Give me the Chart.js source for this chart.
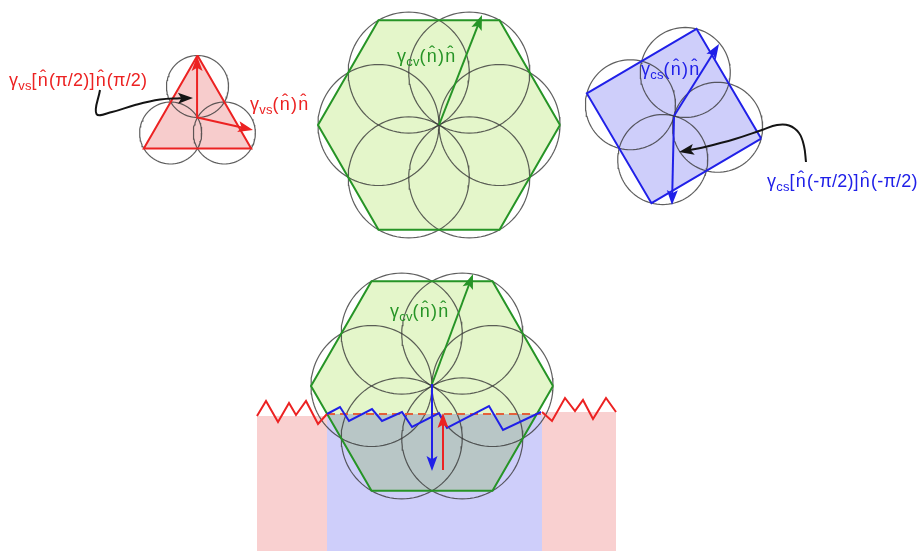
<!DOCTYPE html>
<html>
<head>
<meta charset="utf-8">
<script src="https://cdn.jsdelivr.net/npm/chart.js@4.4.1/dist/chart.umd.min.js"></script>
<style>
  html, body { margin: 0; padding: 0; background: #ffffff; overflow: hidden; }
  canvas { display: block; }
</style>
</head>
<body>
<canvas id="wulff" width="920" height="551"></canvas>
<script>
// ---- Figures: regular polygons with their circle constructions ----
// centre (x, y), circumradius, angle of first vertex (deg), number of sides
const figureCentres = [[197.5, 117.5], [439, 125], [674, 116], [432, 386]];
const figureRadii   = [62, 121, 90, 121];
const figureAngles  = [-90, 0, 14.5, 0];
const figureSides   = [3, 6, 4, 6];

// ---- Straight vectors (start -> tip) ----
const arrowStarts = [[197.5, 117.5], [197.5, 117.5], [439, 125], [674, 116], [674, 117], [432, 384], [432, 384], [443, 470]];
const arrowTips   = [[197, 56], [253, 130], [482, 15], [719, 44], [672, 205], [473, 274], [432, 471], [443, 413]];

// ---- Curved pointer arrows (waypoints, last one is the tip) ----
const pointerLeft  = [[100, 90], [96.5, 114], [112, 112], [135, 105], [160, 99.5], [180, 98.2], [193, 98]];
const pointerRight = [[806, 162], [804, 146], [799, 133], [789, 125.5], [777, 125], [762, 130], [735, 139], [705, 147], [690, 150], [679, 152]];

// ---- Interface profile ----
const redZigLeft  = [[257, 416], [266, 401], [278, 422], [289, 403], [296, 415], [306, 401], [318, 424], [327, 414]];
const redZigRight = [[542, 412], [552, 421], [565, 398], [575, 411], [583, 400], [593, 419], [606, 398], [616, 412]];
const blueZig     = [[327, 414], [340, 407], [349, 421], [372, 409], [382, 421], [402, 412], [412, 427], [439, 413], [447, 428], [489, 406], [503, 430], [541, 412]];
const dashedLevel = [[327, 414], [541, 414]];
// phase blocks: x0, x1, top y, bottom y
const pinkBlocks  = [[257, 327, 416, 551], [542, 616, 412, 551]];
const blueBlock   = [327, 542, 414, 551];

// ---- Labels ----
const labelGreek = ['γ', 'γ', 'γ', 'γ', 'γ', 'γ'];
const labelSubs  = ['vs', 'vs', 'cv', 'cs', 'cs', 'cv'];
const labelMains = ['[n\u0302(π/2)]n\u0302(π/2)', '(n\u0302)n\u0302', '(n\u0302)n\u0302', '(n\u0302)n\u0302', '[n\u0302(-π/2)]n\u0302(-π/2)', '(n\u0302)n\u0302'];

// ---- styling ----
const RED = 'rgb(236,34,34)', GREEN = 'rgb(38,148,38)', BLUE = 'rgb(32,32,232)', BLACK = 'rgb(20,20,20)';
const PINK = 'rgb(249,208,208)', LIGHTGREEN = 'rgb(228,246,202)', LAVENDER = 'rgb(206,206,250)', TRI_FILL = 'rgb(247,204,204)';
const CIRCLE = 'rgba(55,55,55,0.8)';
const figureEdge = [RED, GREEN, BLUE, GREEN];
const figureFill = [TRI_FILL, LIGHTGREEN, LAVENDER, LIGHTGREEN];
const arrowColors = [RED, RED, GREEN, BLUE, BLUE, GREEN, BLUE, RED];
const labelColors = [RED, RED, GREEN, BLUE, BLUE, GREEN];
const labelAnchors = [[9, 86], [250, 110], [397, 62], [641, 75], [767, 187], [390, 317]];

const pts = a => a.map(p => ({ x: p[0], y: p[1] }));
const rad = d => d * Math.PI / 180;

function polygonVerts(i) {
  const [cx, cy] = figureCentres[i], R = figureRadii[i], n = figureSides[i];
  const v = [];
  for (let k = 0; k <= n; k++) {
    const a = rad(figureAngles[i] + 360 * k / n);
    v.push([cx + R * Math.cos(a), cy + R * Math.sin(a)]);
  }
  return v;
}
function circleVerts(cx, cy, r) {
  const v = [];
  for (let k = 0; k <= 96; k++) {
    const a = 2 * Math.PI * k / 96;
    v.push([cx + r * Math.cos(a), cy + r * Math.sin(a)]);
  }
  return v;
}
function figureCircles(i) {
  const [cx, cy] = figureCentres[i], r = figureRadii[i] / 2, n = figureSides[i];
  const out = [];
  for (let k = 0; k < n; k++) {
    const a = rad(figureAngles[i] + 360 * k / n);
    out.push(circleVerts(cx + r * Math.cos(a), cy + r * Math.sin(a), r));
  }
  return out;
}
function rectVerts(x0, x1, y0, y1) { return [[x0, y0], [x1, y0], [x1, y1], [x0, y1], [x0, y0]]; }
// arrowhead with a slight notch at the back
function headVerts(from, tip, len, wid) {
  const dx = tip[0] - from[0], dy = tip[1] - from[1], L = Math.hypot(dx, dy);
  const ux = dx / L, uy = dy / L, nx = -uy, ny = ux;
  const bx = tip[0] - ux * len, by = tip[1] - uy * len;
  return [tip, [bx + nx * wid / 2, by + ny * wid / 2], [tip[0] - ux * len * 0.78, tip[1] - uy * len * 0.78],
          [bx - nx * wid / 2, by - ny * wid / 2], tip];
}
function pullBack(from, tip, d) {
  const L = Math.hypot(tip[0] - from[0], tip[1] - from[1]);
  return [tip[0] - (tip[0] - from[0]) / L * d, tip[1] - (tip[1] - from[1]) / L * d];
}

const datasets = [];
function fillShape(v, color, blend) {
  datasets.push({ data: pts(v), backgroundColor: color, borderColor: 'rgba(0,0,0,0)', borderWidth: 0, fill: 'shape', blend: !!blend });
}
function stroke(v, color, width, extra) {
  datasets.push(Object.assign({ data: pts(v), borderColor: color, borderWidth: width, fill: false }, extra || {}));
}

// phase blocks
pinkBlocks.forEach(b => fillShape(rectVerts(b[0], b[1], b[2], b[3]), PINK));
fillShape(rectVerts(blueBlock[0], blueBlock[1], blueBlock[2], blueBlock[3]), LAVENDER);
// polygon interiors (multiplied so overlaps darken)
for (let i = 0; i < figureCentres.length; i++) fillShape(polygonVerts(i), figureFill[i], true);
// circle constructions
for (let i = 0; i < figureCentres.length; i++) figureCircles(i).forEach(c => stroke(c, CIRCLE, 1.2));
// polygon edges
for (let i = 0; i < figureCentres.length; i++) stroke(polygonVerts(i), figureEdge[i], 2);
// interface lines
stroke(redZigLeft, RED, 2);
stroke(redZigRight, RED, 2);
stroke(dashedLevel, 'rgb(228,96,58)', 2, { borderDash: [8, 5] });
stroke(blueZig, BLUE, 2);
// straight vectors
for (let i = 0; i < arrowStarts.length; i++) {
  const s = arrowStarts[i], t = arrowTips[i];
  stroke([s, pullBack(s, t, 8)], arrowColors[i], 2);
  fillShape(headVerts(s, t, 15, 11), arrowColors[i]);
}
// curved pointers
[pointerLeft, pointerRight].forEach(p => {
  const n = p.length, tip = p[n - 1], prev = p[n - 2];
  const body = p.slice(0, n - 1).concat([pullBack(prev, tip, 8)]);
  stroke(body, BLACK, 2, { tension: 0.4 });
  fillShape(headVerts(prev, tip, 15, 11), BLACK);
});

// draw in array order
datasets.forEach((d, i) => { d.order = -i; d.pointRadius = 0; d.clip = false; d.spanGaps = true; if (d.tension === undefined) d.tension = 0; });

function setBlend(chart, i) {
  const d = chart.data.datasets[i];
  chart.ctx.globalCompositeOperation = d && d.blend ? 'multiply' : 'source-over';
}
const blendPlugin = {
  id: 'blendFills',
  beforeDatasetsDraw(chart) { setBlend(chart, 0); },
  afterDatasetDraw(chart, args) { setBlend(chart, args.index + 1); },
  afterDatasetsDraw(chart) { chart.ctx.globalCompositeOperation = 'source-over'; }
};

const FONT = '"Liberation Sans", Arial, Helvetica, sans-serif';
const labelPlugin = {
  id: 'mathLabels',
  afterDraw(chart) {
    const ctx = chart.ctx;
    ctx.save();
    ctx.textBaseline = 'alphabetic';
    ctx.textAlign = 'left';
    if ('letterSpacing' in ctx) ctx.letterSpacing = '0.2px';
    for (let i = 0; i < labelMains.length; i++) {
      let [x, y] = labelAnchors[i];
      ctx.fillStyle = labelColors[i];
      ctx.font = '18px ' + FONT;
      ctx.fillText(labelGreek[i], x, y);
      x += ctx.measureText(labelGreek[i]).width;
      ctx.font = '13px ' + FONT;
      ctx.fillText(labelSubs[i], x, y + 4);
      x += ctx.measureText(labelSubs[i]).width;
      ctx.font = '18px ' + FONT;
      labelMains[i].split(/(n\u0302)/).forEach(piece => {
        if (!piece) return;
        const hat = piece === 'n\u0302';
        if (hat) x += 1;
        ctx.fillText(piece, x, y);
        x += ctx.measureText(piece).width + (hat ? 1 : 0);
      });
    }
    ctx.restore();
  }
};

new Chart(document.getElementById('wulff'), {
  type: 'line',
  data: { datasets },
  options: {
    responsive: false,
    animation: false,
    events: [],
    devicePixelRatio: 1,
    layout: { padding: 0 },
    plugins: { legend: { display: false }, tooltip: { enabled: false }, filler: { propagate: false } },
    scales: {
      x: { type: 'linear', min: 0, max: 920, display: false },
      y: { type: 'linear', min: 0, max: 551, reverse: true, display: false }
    }
  },
  plugins: [blendPlugin, labelPlugin]
});
</script>
</body>
</html>
